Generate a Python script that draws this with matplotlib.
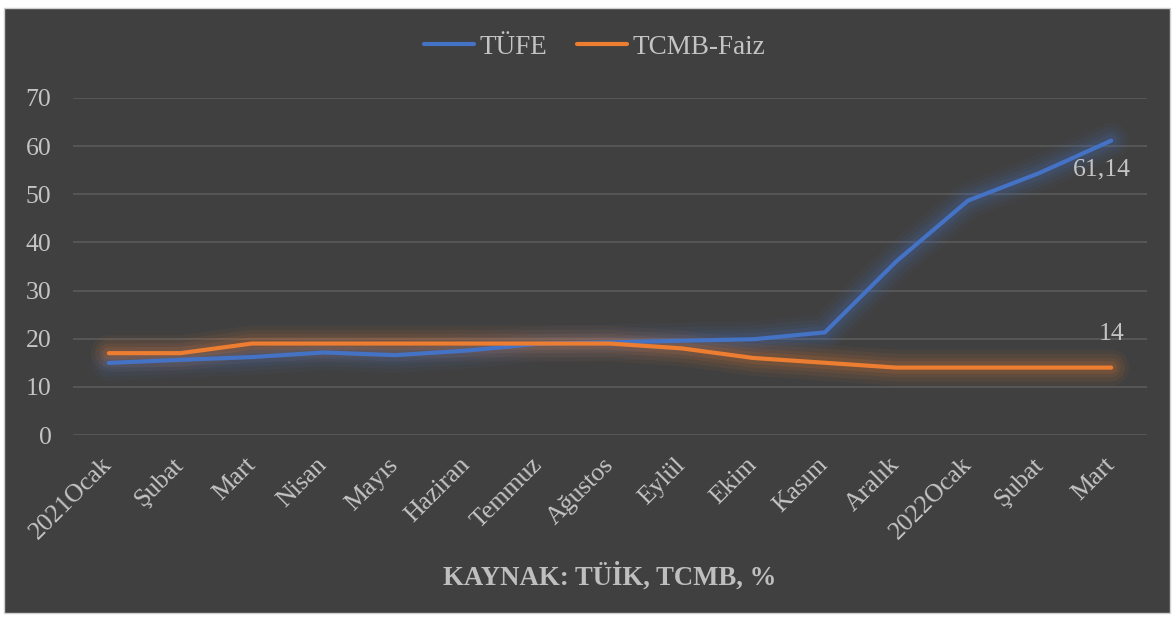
import matplotlib
matplotlib.use("Agg")
import matplotlib.pyplot as plt
from matplotlib.patches import Rectangle

categories = ["2021Ocak", "Şubat", "Mart", "Nisan", "Mayıs", "Haziran", "Temmuz",
              "Ağustos", "Eylül", "Ekim", "Kasım", "Aralık", "2022Ocak", "Şubat", "Mart"]
tufe = [14.97, 15.61, 16.19, 17.14, 16.59, 17.53, 18.95, 19.25, 19.58, 19.89,
        21.31, 36.08, 48.69, 54.44, 61.14]
faiz = [17, 17, 19, 19, 19, 19, 19, 19, 18, 16, 15, 14, 14, 14, 14]
yticks = [0, 10, 20, 30, 40, 50, 60, 70]

plt.rcParams['font.family'] = ['Liberation Serif', 'DejaVu Serif']

BG = '#404040'
TXT = '#C4C4C4'
BLUE = '#4472C4'
ORANGE = '#ED7D31'

fig = plt.figure(figsize=(11.74, 6.17), dpi=100, facecolor='white')
fig.patches.append(Rectangle((4/1174, 4/617), 1166/1174, 605/617, transform=fig.transFigure,
                             facecolor=BG, edgecolor='#D0D0D0', linewidth=1, zorder=-10))

ax = fig.add_axes([73/1174, 1-435/617, 1074/1174, 337/617])
ax.set_zorder(1)
ax.set_facecolor('none')
x = list(range(len(categories)))

for series, col in ((tufe, BLUE), (faiz, ORANGE)):
    for w, a in ((26, 0.05), (20, 0.07), (14, 0.09), (9, 0.12)):
        ax.plot(x, series, color=col, lw=w, alpha=a, solid_capstyle='round',
                solid_joinstyle='round', zorder=2)

l1, = ax.plot(x, tufe, color=BLUE, lw=3, solid_capstyle='round', solid_joinstyle='round',
              zorder=3, label='TÜFE')
l2, = ax.plot(x, faiz, color=ORANGE, lw=3, solid_capstyle='round', solid_joinstyle='round',
              zorder=3, label='TCMB-Faiz')

ax.set_xlim(-0.5, len(categories) - 0.5)
ax.set_ylim(0, 70)
ax.set_yticks(yticks)
ax.set_yticklabels([str(v) for v in yticks])
ax.yaxis.grid(True, color='#595959', lw=1.3)
ax.set_axisbelow(True)
for s in ax.spines.values():
    s.set_visible(False)
ax.tick_params(axis='y', length=0, pad=15.5, labelsize=18.5, labelcolor=TXT)
ax.tick_params(axis='x', length=0, pad=19, labelsize=18.5, labelcolor=TXT)
ax.set_xticks(x)
ax.set_xticklabels(categories, rotation=45, ha='right', va='center', rotation_mode='anchor')

ax.annotate(f"{tufe[-1]:.2f}".replace('.', ','), (x[-1], tufe[-1]), xytext=(-7, -21),
            textcoords='offset points', ha='center', va='center', fontsize=18.5, color=TXT)
ax.annotate(f"{faiz[-1]}", (x[-1], faiz[-1]), xytext=(0, 24),
            textcoords='offset points', ha='center', va='center', fontsize=18.5, color=TXT)

fig.legend(handles=[l1, l2], loc='center', bbox_to_anchor=(595/1174, 1-47/617),
           ncol=2, frameon=False, fontsize=19.5, labelcolor=TXT, handlelength=1.85,
           handletextpad=0.2, columnspacing=1.1)

fig.text(610/1174, 1-577/617, "KAYNAK: TÜİK, TCMB, %", ha='center', va='center',
         fontsize=19.3, fontweight='bold', color='#BFBFBF')

fig.savefig('out.png', dpi=100, facecolor='white')
